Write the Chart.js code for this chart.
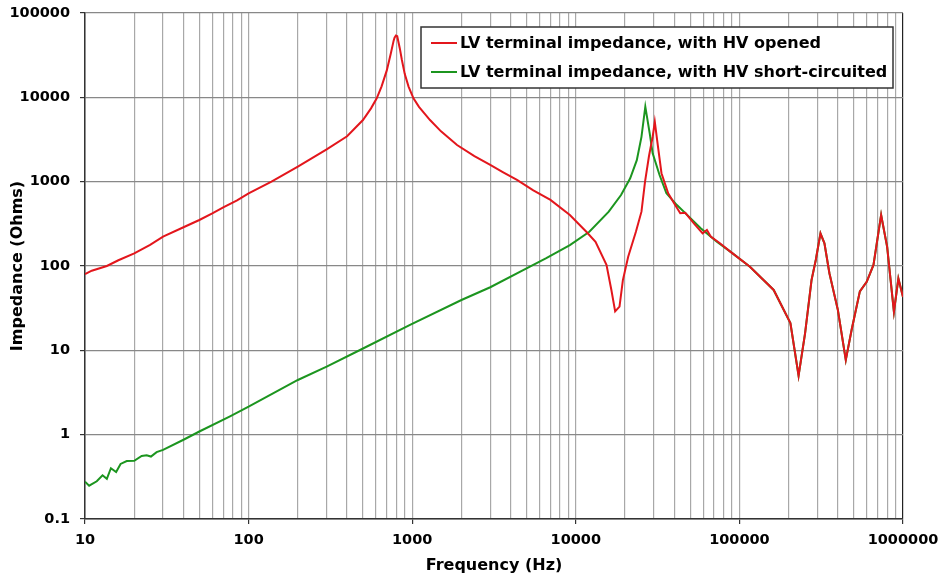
<!DOCTYPE html>
<html>
<head>
<meta charset="utf-8">
<title>LV terminal impedance</title>
<script src="https://cdn.jsdelivr.net/npm/chart.js@4/dist/chart.umd.min.js"></script>
<style>
  html, body { margin: 0; padding: 0; background: #ffffff; }
  #wrap { position: relative; width: 940px; height: 578px; }
</style>
</head>
<body>
<div id="wrap"><canvas id="chart" width="940" height="578"></canvas></div>
<script>
// Frequency sweep (Hz) and impedance magnitude (Ohms)

// LV terminal impedance with HV opened, up to where it joins the other curve
const openFreq = [10, 11, 13.6, 16, 20, 25, 30, 40, 50, 60, 70, 85, 100, 138, 200, 300, 400, 500, 560, 607, 650, 700, 740, 770, 780, 795, 810, 840, 865, 900, 950, 1018, 1100, 1285, 1500, 1880, 2400, 3000, 3600, 4370, 5500, 7000, 9200, 11600, 13200, 15400, 16500, 17400, 18500, 19400, 20900, 23300, 25200, 26500, 28000, 29500, 30400, 31400, 33400, 36700, 40500, 43500, 46700, 52700, 59600, 63300, 66800, 76000];
const openZ = [80, 88, 100, 117, 141, 178, 223, 288, 351, 420, 497, 600, 728, 1000, 1507, 2416, 3450, 5380, 7400, 9730, 13500, 21000, 33000, 47000, 51000, 54000, 53000, 38000, 27700, 19000, 13400, 9730, 7700, 5380, 3950, 2720, 2010, 1578, 1290, 1047, 790, 607, 403, 255, 194, 103, 52, 29, 33, 68, 129, 255, 441, 1000, 2000, 3410, 5140, 3120, 1260, 728, 528, 422, 428, 321, 244, 267, 223, 186];

// LV terminal impedance with HV short-circuited, below the common high-frequency part
const shortFreq = [10, 10.6, 11.8, 12.8, 13.6, 14.4, 15.5, 16.5, 18, 20, 22.2, 23.8, 25.3, 27.4, 30, 40, 50, 77, 100, 141, 200, 300, 490, 970, 2000, 3000, 5000, 6600, 9200, 12100, 15900, 18900, 21500, 23600, 25200, 26600, 28300, 29500, 32500, 35800, 41500, 50400, 58000, 72800];
const shortZ = [0.277, 0.248, 0.28, 0.33, 0.30, 0.40, 0.36, 0.45, 0.487, 0.49, 0.56, 0.57, 0.55, 0.62, 0.66, 0.87, 1.09, 1.65, 2.15, 3.09, 4.45, 6.4, 10.3, 20, 39.5, 56, 94, 124, 177, 255, 441, 695, 1096, 1800, 3400, 7750, 3740, 2170, 1200, 728, 528, 367, 280, 194];

// High-frequency part where both curves coincide
const commonFreq = [88000, 116000, 162000, 205000, 230000, 252000, 276000, 293000, 313000, 331000, 355000, 400000, 447000, 485000, 545000, 600000, 660000, 735000, 800000, 880000, 937000, 1000000];
const commonZ = [148, 98, 52, 21, 5.0, 15.9, 68, 118, 244, 186, 82, 30, 7.7, 17.4, 50, 65, 103, 403, 169, 28.7, 71, 43];

// Axis ticks
const xDecades = [10, 100, 1000, 10000, 100000, 1000000];
const xTickLabels = ['10', '100', '1000', '10000', '100000', '1000000'];
const yDecades = [0.1, 1, 10, 100, 1000, 10000, 100000];
const yTickLabels = ['0.1', '1', '10', '100', '1000', '10000', '100000'];

const seriesNames = ['LV terminal impedance, with HV opened', 'LV terminal impedance, with HV short-circuited'];
const xTitle = 'Frequency (Hz)';
const yTitle = 'Impedance (Ohms)';

function toPoints(freqs, values) {
  return freqs.map((f, i) => ({ x: f, y: values[i] }));
}

// grid lines at 1..9 x 10^n between the decades
const xGridValues = [];
for (let d = 0; d < xDecades.length - 1; d++) {
  for (let m = 1; m <= 9; m++) xGridValues.push(xDecades[d] * m);
}
xGridValues.push(xDecades[xDecades.length - 1]);

function isDecade(v, list) {
  return list.some(d => Math.abs(v - d) / d < 1e-9);
}
function labelFor(v, list, labels) {
  const i = list.findIndex(d => Math.abs(v - d) / d < 1e-9);
  return i >= 0 ? labels[i] : '';
}

const FONT = "'DejaVu Sans', 'Liberation Sans', sans-serif";
Chart.defaults.font.family = FONT;
Chart.defaults.font.weight = 'bold';
Chart.defaults.color = '#000000';

// boxed legend drawn inside the plot area, upper right
const insideLegend = {
  id: 'insideLegend',
  afterDraw(chart) {
    const { ctx, chartArea } = chart;
    const boxRight = chartArea.right - 10;
    const boxLeft = chartArea.right - 482;
    const boxTop = chartArea.top + 14;
    const boxBottom = chartArea.top + 75;
    ctx.save();
    ctx.fillStyle = '#ffffff';
    ctx.fillRect(boxLeft, boxTop, boxRight - boxLeft, boxBottom - boxTop);
    ctx.strokeStyle = '#333333';
    ctx.lineWidth = 1.5;
    ctx.strokeRect(boxLeft, boxTop, boxRight - boxLeft, boxBottom - boxTop);
    ctx.font = 'bold 16px ' + FONT;
    ctx.textBaseline = 'middle';
    ctx.textAlign = 'left';
    const rows = [boxTop + 16, boxTop + 45];
    chart.data.datasets.forEach((ds, i) => {
      const y = rows[i];
      ctx.strokeStyle = ds.borderColor;
      ctx.lineWidth = 2;
      ctx.beginPath();
      ctx.moveTo(boxLeft + 10, y);
      ctx.lineTo(boxLeft + 36, y);
      ctx.stroke();
      ctx.fillStyle = '#000000';
      ctx.fillText(ds.label, boxLeft + 39, y + 1);
    });
    ctx.restore();
  }
};

// the outer layout padding alone decides where the plot area sits
function clearScalePadding(scale) {
  scale.paddingTop = 0;
  scale.paddingBottom = 0;
  scale.paddingLeft = 0;
  scale.paddingRight = 0;
}

new Chart(document.getElementById('chart'), {
  type: 'line',
  data: {
    datasets: [
      {
        label: seriesNames[0],
        data: toPoints(openFreq.concat(commonFreq), openZ.concat(commonZ)),
        borderColor: '#e3161c',
        borderWidth: 2,
        pointRadius: 0,
        tension: 0,
        fill: false
      },
      {
        label: seriesNames[1],
        data: toPoints(shortFreq.concat(commonFreq), shortZ.concat(commonZ)),
        borderColor: '#1c951f',
        borderWidth: 2,
        pointRadius: 0,
        tension: 0,
        fill: false
      }
    ]
  },
  options: {
    responsive: false,
    animation: false,
    layout: { padding: { top: 13, right: 37, left: 0, bottom: 0 } },
    plugins: {
      legend: { display: false },
      tooltip: { enabled: false }
    },
    scales: {
      x: {
        type: 'logarithmic',
        min: 10,
        max: 1000000,
        afterBuildTicks(scale) {
          scale.ticks = xGridValues.map(v => ({ value: v }));
        },
        afterFit(scale) { scale.height = 59; clearScalePadding(scale); },
        ticks: {
          autoSkip: false,
          maxRotation: 0,
          minRotation: 0,
          padding: 8,
          font: { size: 14.5, weight: 'bold' },
          color: '#000000',
          callback: (v) => labelFor(v, xDecades, xTickLabels)
        },
        grid: {
          drawTicks: true,
          tickLength: 5,
          lineWidth: 1.2,
          color: (c) => (c.tick && Math.abs(c.tick.value - 1000000) < 1) ? '#222222' : '#a8a8a8',
          tickColor: (c) => (c.tick && isDecade(c.tick.value, xDecades)) ? '#333333' : 'rgba(0,0,0,0)'
        },
        border: { display: true, color: '#333333', width: 1.5 },
        title: {
          display: true,
          text: xTitle,
          font: { size: 16, weight: 'bold' },
          color: '#000000',
          padding: { top: 2, bottom: 3 }
        }
      },
      y: {
        type: 'logarithmic',
        min: 0.1,
        max: 100000,
        afterBuildTicks(scale) {
          scale.ticks = yDecades.map(v => ({ value: v }));
        },
        afterFit(scale) { scale.width = 85; clearScalePadding(scale); },
        ticks: {
          autoSkip: false,
          padding: 10,
          font: { size: 14.5, weight: 'bold' },
          color: '#000000',
          callback: (v) => labelFor(v, yDecades, yTickLabels)
        },
        grid: {
          drawTicks: true,
          tickLength: 5,
          lineWidth: 1.2,
          color: '#888888',
          tickColor: '#333333'
        },
        border: { display: true, color: '#333333', width: 1.5 },
        title: {
          display: true,
          text: yTitle,
          font: { size: 16, weight: 'bold' },
          color: '#000000',
          padding: { top: 8, bottom: 4 }
        }
      }
    }
  },
  plugins: [insideLegend]
});
</script>
</body>
</html>
